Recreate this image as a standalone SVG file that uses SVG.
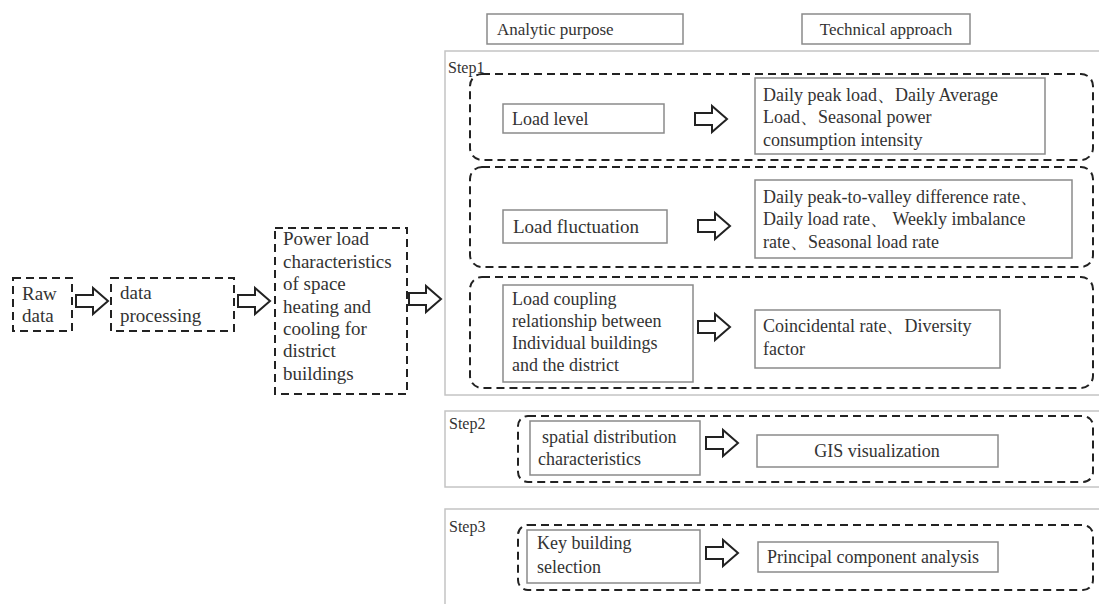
<svg xmlns="http://www.w3.org/2000/svg" width="1099" height="604" viewBox="0 0 1099 604" font-family="'Liberation Serif', 'DejaVu Serif', serif">
<style>
text{font-family:'Liberation Serif','DejaVu Serif',serif;fill:#333;font-size:18px}
.big{font-size:19px}
.hdr{font-size:17px}
.step{font-size:16px}
.dash{fill:none;stroke:#222;stroke-width:2;stroke-dasharray:8 5}
.solid{fill:#fff;stroke:#8a8a8a;stroke-width:1.5}
.frame{fill:none;stroke:#c4c4c4;stroke-width:1.5}
.arr{fill:#fff;stroke:#222;stroke-width:2;stroke-linejoin:miter}
</style>
<defs>
<path id="arrow" class="arr" d="M0,-6 H17 V-13 L32,0 L17,13 V6 H0 Z"/>
</defs>
<rect width="1099" height="604" fill="#fff"/>

<g id="frames">
<rect class="frame" x="445" y="51" width="660" height="344"/>
<rect class="frame" x="445" y="411" width="660" height="76"/>
<rect class="frame" x="445" y="509" width="660" height="100"/>
<text class="step" x="448" y="73">Step1</text>
<text class="step" x="449" y="429">Step2</text>
<text class="step" x="449" y="532">Step3</text>
</g>

<g id="header-analytic"><rect class="solid" x="487" y="14" width="196" height="30"/><text class="hdr" x="497" y="35">Analytic purpose</text></g>
<g id="header-technical"><rect class="solid" x="802" y="14" width="168" height="30"/><text class="hdr" x="886" y="35" text-anchor="middle">Technical approach</text></g>

<g id="raw-data"><rect class="dash" x="13" y="278" width="59" height="53"/><text class="big" x="22" y="300">Raw</text><text class="big" x="22" y="322">data</text></g>
<g id="data-processing"><rect class="dash" x="111" y="278" width="123" height="53"/><text class="big" x="120" y="299">data</text><text class="big" x="120" y="322">processing</text></g>
<g id="power-load"><rect class="dash" x="275" y="228" width="132" height="166"/>
<text class="big" x="283" y="245">Power load</text>
<text class="big" x="283" y="268">characteristics</text>
<text class="big" x="283" y="290">of space</text>
<text class="big" x="283" y="313">heating and</text>
<text class="big" x="283" y="335">cooling for</text>
<text class="big" x="283" y="357">district</text>
<text class="big" x="283" y="380">buildings</text>
</g>

<g id="group-level"><rect class="dash" x="470" y="74" width="623" height="86" rx="12"/></g>
<g id="load-level"><rect class="solid" x="503" y="104" width="161" height="29"/><text x="512" y="125">Load level</text></g>
<g id="tech-level"><rect class="solid" x="755" y="78" width="290" height="76"/>
<text x="763" y="101">Daily peak load、Daily Average</text>
<text x="763" y="123">Load、Seasonal power</text>
<text x="763" y="146">consumption intensity</text></g>

<g id="group-fluct"><rect class="dash" x="470" y="167" width="623" height="100" rx="12"/></g>
<g id="load-fluct"><rect class="solid" x="503" y="210" width="164" height="33"/><text class="big" x="513" y="233">Load fluctuation</text></g>
<g id="tech-fluct"><rect class="solid" x="755" y="180" width="317" height="78"/>
<text x="763" y="203">Daily peak-to-valley difference rate、</text>
<text x="763" y="225">Daily load rate、 Weekly imbalance</text>
<text x="763" y="248">rate、Seasonal load rate</text></g>

<g id="group-coupling"><rect class="dash" x="470" y="277" width="623" height="111" rx="12"/></g>
<g id="load-coupling"><rect class="solid" x="503" y="285" width="190" height="97"/>
<text x="512" y="305">Load coupling</text>
<text x="512" y="327">relationship between</text>
<text x="512" y="349">Individual buildings</text>
<text x="512" y="371">and the district</text></g>
<g id="tech-coupling"><rect class="solid" x="755" y="310" width="245" height="58"/>
<text x="763" y="332">Coincidental rate、Diversity</text>
<text x="763" y="355">factor</text></g>

<g id="group-spatial"><rect class="dash" x="518" y="416" width="575" height="66" rx="10"/></g>
<g id="spatial"><rect class="solid" x="530" y="421" width="170" height="54"/>
<text x="542" y="443">spatial distribution</text>
<text x="538" y="465">characteristics</text></g>
<g id="gis"><rect class="solid" x="757" y="435" width="241" height="32"/><text x="877" y="457" text-anchor="middle">GIS visualization</text></g>

<g id="group-key"><rect class="dash" x="518" y="525" width="575" height="65" rx="10"/></g>
<g id="key-building"><rect class="solid" x="527" y="530" width="173" height="53"/>
<text x="537" y="549">Key building</text>
<text x="537" y="573">selection</text></g>
<g id="pca"><rect class="solid" x="758" y="542" width="240" height="30"/><text x="767" y="563">Principal component analysis</text></g>

<g id="connectors">
<use href="#arrow" x="76" y="301"/>
<use href="#arrow" x="238" y="301"/>
<use href="#arrow" x="409" y="299"/>
<use href="#arrow" x="695" y="119"/>
<use href="#arrow" x="698" y="226"/>
<use href="#arrow" x="698" y="327"/>
<use href="#arrow" x="706" y="443"/>
<use href="#arrow" x="706" y="553"/>
</g>
</svg>
